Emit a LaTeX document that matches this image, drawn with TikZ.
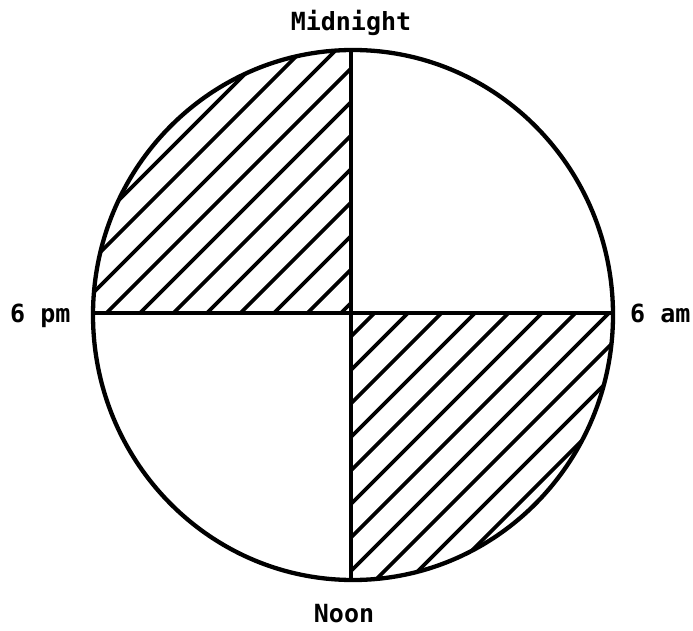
\documentclass[tikz,border=0pt]{standalone}
\usepackage{fontspec}
\newfontfamily\labelfont{DejaVu Sans Mono Bold}
\begin{document}
\begin{tikzpicture}[x=1pt,y=1pt,
  rim/.style={line width=4.3pt},
  hatchline/.style={line width=3.6pt},
  lbl/.style={inner sep=0pt, font=\labelfont\fontsize{25}{25}\selectfont}]
\useasboundingbox (0,0) rectangle (693,630);
% named points
\coordinate (C) at (353,315);
\coordinate (top) at (351,580);
\coordinate (bot) at (351,50);
\coordinate (lft) at (93,317);
\coordinate (rgt) at (613,317);
\coordinate (mid) at (351,317);
% hatching upper-left quadrant
\begin{scope}
  \clip (C) ellipse [x radius=260, y radius=265];
  \clip (0,317) rectangle (351,630);
  \foreach \n in {-12,...,1} {
    \pgfmathsetmacro{\c}{24+33.5*\n}
    \draw[hatchline] (\c,0) -- ({\c+700},700);
  }
\end{scope}
% hatching lower-right quadrant
\begin{scope}
  \clip (C) ellipse [x radius=260, y radius=265];
  \clip (351,0) rectangle (693,317);
  \foreach \n in {0,...,14} {
    \pgfmathsetmacro{\c}{24+33.5*\n}
    \draw[hatchline] (\c,0) -- ({\c+700},700);
  }
\end{scope}
% outline and axes
\draw[rim] (C) ellipse [x radius=260, y radius=265];
\draw[rim] (top) -- (bot);
\draw[rim] (lft) -- (rgt);
% labels
\node[lbl, anchor=base] (midnight) at (351,599) {Midnight};
\node[lbl, anchor=base] (noon) at (344,8) {Noon};
\node[lbl, anchor=base west] (pm) at (10,308) {6 pm};
\node[lbl, anchor=base west] (am) at (630,308) {6 am};
\end{tikzpicture}
\end{document}
